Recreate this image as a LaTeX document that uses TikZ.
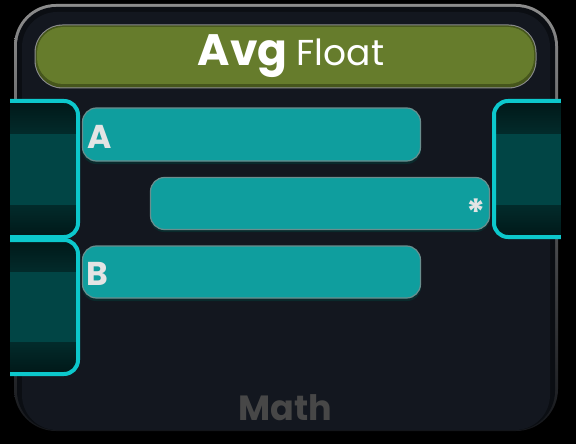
\documentclass[tikz,border=0pt]{standalone}
\usepackage{fontspec}
\setmainfont{Poppins}
\definecolor{panelbg}{HTML}{13171F}
\definecolor{rimtop}{HTML}{8C8C8C}
\definecolor{rimbot}{HTML}{15171B}
\definecolor{panelrim}{HTML}{707274}
\definecolor{panelring}{HTML}{0B0E13}
\definecolor{hdrfill}{HTML}{667C2C}
\definecolor{hdrdark}{HTML}{46561C}
\definecolor{fieldfill}{HTML}{0F9E9E}
\definecolor{fieldrim}{HTML}{6A8E8E}
\definecolor{fieldshadow}{HTML}{0A2A2C}
\definecolor{sockrim}{HTML}{0CC8CC}
\definecolor{sockmid}{HTML}{014545}
\definecolor{sockdark}{HTML}{022B2B}
\definecolor{sockdeep}{HTML}{011818}
\definecolor{labeltext}{HTML}{E4E4E4}
\definecolor{mathtext}{HTML}{474747}
\tikzset{
  fieldbox/.style={fill=fieldfill, draw=fieldrim, line width=1.2pt, rounded corners=14pt},
  fieldshade/.style={fill=fieldshadow, rounded corners=14pt},
  socketline/.style={draw=sockrim, line width=4pt, rounded corners=14pt},
  fieldlabel/.style={anchor=base west, inner sep=0pt, text=labeltext, font=\fontsize{33}{33}\selectfont\bfseries},
  bandtop/.style={top color=sockdeep, bottom color=sockdark},
  bandbot/.style={top color=sockdark, bottom color=sockdeep},
}
\begin{document}
\begin{tikzpicture}[x=1pt,y=-1pt]
\useasboundingbox (0,0) rectangle (576,444);
\fill[black] (0,0) rectangle (576,444);
% main panel
\shade[top color=rimtop, bottom color=rimbot, rounded corners=42pt] (14,4) rectangle (558,431);
\fill[panelring, rounded corners=39pt] (17,7) rectangle (555,430);
\fill[panelbg, rounded corners=35pt] (22,12) rectangle (550,430);
% header
\fill[panelrim!80, rounded corners=28pt] (34.5,24.5) rectangle (536.5,88.5);
\fill[hdrdark, rounded corners=27pt] (35.5,25.5) rectangle (535.5,87.5);
\fill[hdrfill, rounded corners=26pt] (37,27) rectangle (534,84);
\node[anchor=base, inner sep=0pt, text=white] (title) at (291,66)
  {{\fontsize{44}{44}\selectfont\bfseries Avg}\hspace{9pt}{\fontsize{36}{36}\selectfont Float}};
% left sockets
\begin{scope}
  \clip[rounded corners=14pt] (-10,101) rectangle (78,237);
  \shade[bandtop] (-10,101) rectangle (78,134);
  \fill[sockmid] (-10,134) rectangle (78,205);
  \shade[bandbot] (-10,205) rectangle (78,237);
\end{scope}
\draw[socketline] (-10,101) -- (78,101) -- (78,237) -- (-10,237);
\begin{scope}
  \clip[rounded corners=14pt] (-10,240) rectangle (78,374);
  \shade[bandtop] (-10,240) rectangle (78,272);
  \fill[sockmid] (-10,272) rectangle (78,342);
  \shade[bandbot] (-10,342) rectangle (78,374);
\end{scope}
\draw[socketline] (-10,240) -- (78,240) -- (78,374) -- (-10,374);
% right socket
\begin{scope}
  \clip[rounded corners=14pt] (494,101) rectangle (590,237);
  \shade[bandtop] (494,101) rectangle (590,134);
  \fill[sockmid] (494,134) rectangle (590,205);
  \shade[bandbot] (494,205) rectangle (590,237);
\end{scope}
\draw[socketline] (590,101) -- (494,101) -- (494,237) -- (590,237);
% outer black margins
\fill[black] (0,0) rectangle (10,444);
\fill[black] (561,0) rectangle (576,444);
% fields
\fill[fieldshade] (82,110) rectangle (421,164);
\node[fieldbox, minimum width=338pt, minimum height=53pt, inner sep=0pt] (fa) at (251.5,134.5) {};
\fill[fieldshade] (150,179) rectangle (490,232);
\node[fieldbox, minimum width=339pt, minimum height=52pt, inner sep=0pt] (fo) at (320,203.5) {};
\fill[fieldshade] (82,248) rectangle (421,301);
\node[fieldbox, minimum width=338pt, minimum height=52pt, inner sep=0pt] (fb) at (251.5,272) {};
\node[fieldlabel] (la) at (87,148) {A};
\node[fieldlabel] (lb) at (86,285) {B};
\node[anchor=center, inner sep=0pt, text=labeltext, font=\fontsize{36}{36}\selectfont\bfseries] (star) at (476.5,212) {*};
% footer
\node[anchor=base, inner sep=0pt, text=mathtext, font=\fontsize{35}{35}\selectfont\bfseries] (math) at (285.5,420) {Math};
\end{tikzpicture}
\end{document}
